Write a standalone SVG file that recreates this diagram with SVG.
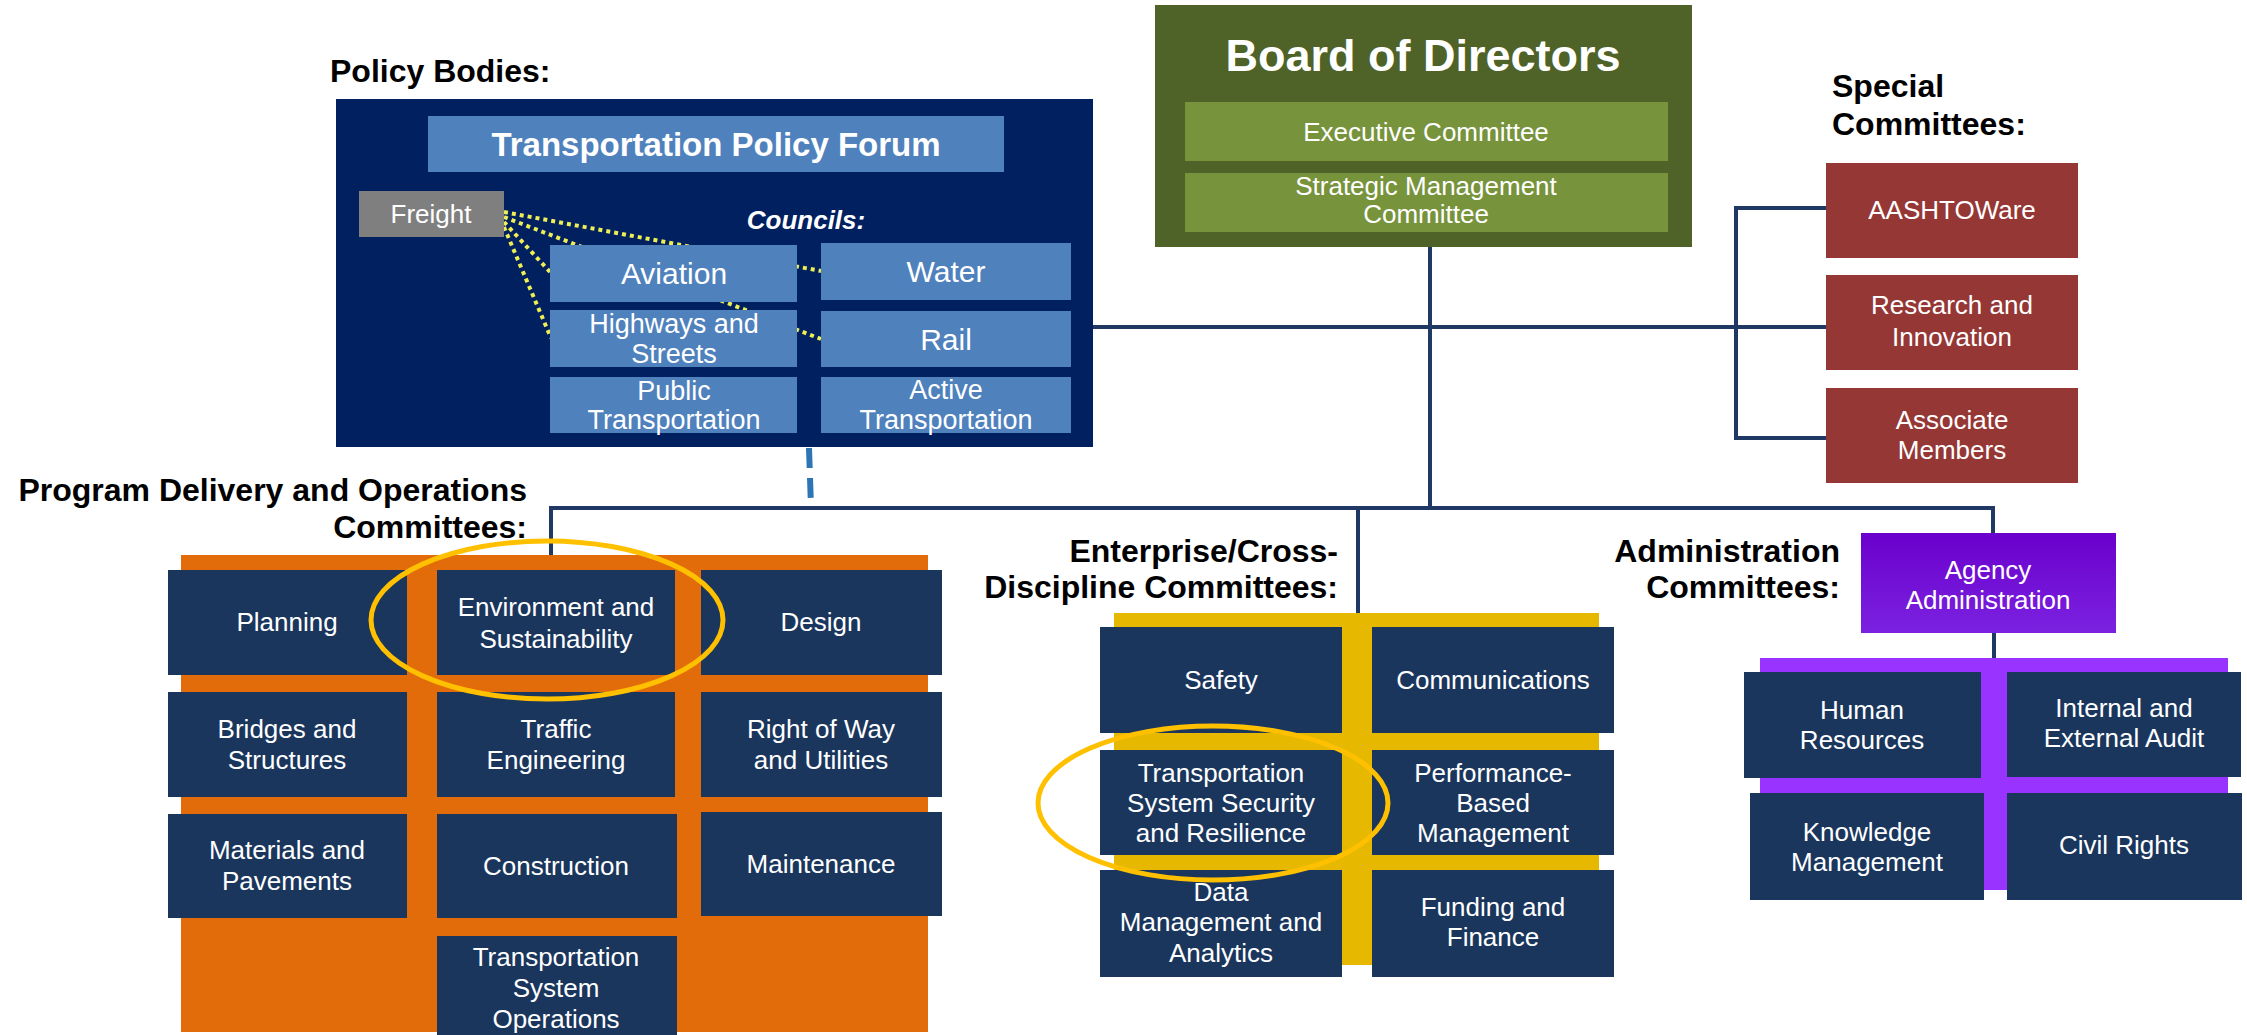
<svg xmlns="http://www.w3.org/2000/svg" width="2247" height="1035" viewBox="0 0 2247 1035">
<defs>
<style>
text{font-family:"Liberation Sans",Arial,sans-serif;}
.sec{font-weight:bold;font-size:32px;fill:#000;}
.bx{font-size:26px;fill:#fff;text-anchor:middle;}
.cn{font-size:30px;fill:#fff;text-anchor:middle;}
.cn2{font-size:27px;fill:#fff;text-anchor:middle;}
.navy{fill:#1a365d;}
.blue{fill:#4f81bd;}
.red{fill:#953735;}
.conn{stroke:#1f3864;stroke-width:4;fill:none;}
.dot{stroke:#eeee55;stroke-width:4;stroke-dasharray:4 4;fill:none;}
.ring{stroke:#ffc000;stroke-width:5;fill:none;}
</style>
<linearGradient id="agencyGrad" x1="0" y1="0" x2="0" y2="1">
<stop offset="0" stop-color="#6a00cc"/>
<stop offset="1" stop-color="#7b22e0"/>
</linearGradient>
</defs>
<rect width="2247" height="1035" fill="#fff"/>

<!-- section labels -->
<g id="labels">
<text class="sec" x="330" y="82" font-size="30">Policy Bodies:</text>
<text class="sec" x="1832" y="97">Special</text>
<text class="sec" x="1832" y="135">Committees:</text>
<text class="sec" x="527" y="501" text-anchor="end">Program Delivery and Operations</text>
<text class="sec" x="527" y="538" text-anchor="end">Committees:</text>
<text class="sec" x="1338" y="562" text-anchor="end">Enterprise/Cross-</text>
<text class="sec" x="1338" y="598" text-anchor="end">Discipline Committees:</text>
<text class="sec" x="1840" y="562" text-anchor="end">Administration</text>
<text class="sec" x="1840" y="598" text-anchor="end">Committees:</text>
</g>

<!-- connectors -->
<g id="connectors">
<path class="conn" d="M1430 247 V508"/>
<path class="conn" d="M1093 327 H1826"/>
<path class="conn" d="M1826 208 H1736 V438 H1826"/>
<path class="conn" d="M551 555 V508 H1993 V533"/>
<path class="conn" d="M1358 508 V613"/>
<path class="conn" d="M1994 633 V658"/>
<path d="M809 448 L811 507" stroke="#2e75b6" stroke-width="6" stroke-dasharray="20 10" fill="none"/>
</g>

<!-- Policy bodies -->
<g id="policy-bodies">
<rect x="336" y="99" width="757" height="348" fill="#002060"/>
<g id="tpf">
<rect class="blue" x="428" y="116" width="576" height="56"/>
<text x="716" y="156" font-size="33" font-weight="bold" fill="#fff" text-anchor="middle">Transportation Policy Forum</text>
</g>
<g id="freight-links">
<path class="dot" d="M504 212 L821 271"/>
<path class="dot" d="M504 217 L821 339"/>
<path class="dot" d="M504 222 L551 273"/>
<path class="dot" d="M504 227 L551 338"/>
</g>
<g id="freight">
<rect x="359" y="191" width="145" height="46" fill="#7f7f7f"/>
<text class="bx" x="431" y="223" font-size="27">Freight</text>
</g>
<text x="806" y="229" font-size="26" font-weight="bold" font-style="italic" fill="#fff" text-anchor="middle">Councils:</text>
<g id="aviation"><rect class="blue" x="550" y="245" width="247" height="57"/><text class="cn" x="674" y="284">Aviation</text></g>
<g id="water"><rect class="blue" x="821" y="243" width="250" height="57"/><text class="cn" x="946" y="282">Water</text></g>
<g id="highways"><rect class="blue" x="550" y="310" width="247" height="57"/><text class="cn2" x="674" y="333">Highways and</text><text class="cn2" x="674" y="363">Streets</text></g>
<g id="rail"><rect class="blue" x="821" y="311" width="250" height="56"/><text class="cn" x="946" y="350">Rail</text></g>
<g id="public"><rect class="blue" x="550" y="377" width="247" height="56"/><text class="cn2" x="674" y="400">Public</text><text class="cn2" x="674" y="429">Transportation</text></g>
<g id="active"><rect class="blue" x="821" y="377" width="250" height="56"/><text class="cn2" x="946" y="399">Active</text><text class="cn2" x="946" y="429">Transportation</text></g>
</g>

<!-- Board -->
<g id="board">
<rect x="1155" y="5" width="537" height="242" fill="#4f6228"/>
<text x="1423" y="71" font-size="45" font-weight="bold" fill="#fff" text-anchor="middle">Board of Directors</text>
<g id="executive"><rect x="1185" y="102" width="483" height="59" fill="#77933c"/><text class="bx" x="1426" y="141" font-size="28">Executive Committee</text></g>
<g id="strategic"><rect x="1185" y="173" width="483" height="59" fill="#77933c"/><text class="bx" x="1426" y="195" font-size="28">Strategic Management</text><text class="bx" x="1426" y="223" font-size="28">Committee</text></g>
</g>

<!-- Special committees -->
<g id="aashtoware"><rect class="red" x="1826" y="163" width="252" height="95"/><text class="bx" x="1952" y="219">AASHTOWare</text></g>
<g id="research"><rect class="red" x="1826" y="275" width="252" height="95"/><text class="bx" x="1952" y="314">Research and</text><text class="bx" x="1952" y="346">Innovation</text></g>
<g id="associate"><rect class="red" x="1826" y="388" width="252" height="95"/><text class="bx" x="1952" y="429">Associate</text><text class="bx" x="1952" y="459">Members</text></g>

<!-- Program Delivery and Operations -->
<g id="program-delivery">
<rect x="181" y="555" width="747" height="477" fill="#e36c0a"/>
<g id="planning"><rect class="navy" x="168" y="570" width="239" height="105"/><text class="bx" x="287" y="631">Planning</text></g>
<g id="environment"><rect class="navy" x="437" y="570" width="238" height="105"/><text class="bx" x="556" y="616">Environment and</text><text class="bx" x="556" y="648">Sustainability</text></g>
<g id="design"><rect class="navy" x="701" y="570" width="241" height="105"/><text class="bx" x="821" y="631">Design</text></g>
<g id="bridges"><rect class="navy" x="168" y="692" width="239" height="105"/><text class="bx" x="287" y="738">Bridges and</text><text class="bx" x="287" y="769">Structures</text></g>
<g id="traffic"><rect class="navy" x="437" y="692" width="238" height="105"/><text class="bx" x="556" y="738">Traffic</text><text class="bx" x="556" y="769">Engineering</text></g>
<g id="row"><rect class="navy" x="701" y="692" width="241" height="105"/><text class="bx" x="821" y="738">Right of Way</text><text class="bx" x="821" y="769">and Utilities</text></g>
<g id="materials"><rect class="navy" x="168" y="814" width="239" height="104"/><text class="bx" x="287" y="859">Materials and</text><text class="bx" x="287" y="890">Pavements</text></g>
<g id="construction"><rect class="navy" x="437" y="814" width="240" height="104"/><text class="bx" x="556" y="875">Construction</text></g>
<g id="maintenance"><rect class="navy" x="701" y="812" width="241" height="104"/><text class="bx" x="821" y="873">Maintenance</text></g>
<g id="tso"><rect class="navy" x="437" y="936" width="240" height="99"/><text class="bx" x="556" y="966">Transportation</text><text class="bx" x="556" y="997">System</text><text class="bx" x="556" y="1028">Operations</text></g>
<ellipse class="ring" cx="547" cy="620" rx="176" ry="79"/>
</g>

<!-- Enterprise / Cross-Discipline -->
<g id="enterprise">
<rect x="1114" y="613" width="485" height="352" fill="#e6b800"/>
<g id="safety"><rect class="navy" x="1100" y="627" width="242" height="106"/><text class="bx" x="1221" y="689">Safety</text></g>
<g id="communications"><rect class="navy" x="1372" y="627" width="242" height="106"/><text class="bx" x="1493" y="689">Communications</text></g>
<g id="security"><rect class="navy" x="1100" y="750" width="242" height="105"/><text class="bx" x="1221" y="782">Transportation</text><text class="bx" x="1221" y="812">System Security</text><text class="bx" x="1221" y="842">and Resilience</text></g>
<g id="performance"><rect class="navy" x="1372" y="750" width="242" height="105"/><text class="bx" x="1493" y="782">Performance-</text><text class="bx" x="1493" y="812">Based</text><text class="bx" x="1493" y="842">Management</text></g>
<g id="data"><rect class="navy" x="1100" y="870" width="242" height="107"/><text class="bx" x="1221" y="901">Data</text><text class="bx" x="1221" y="931">Management and</text><text class="bx" x="1221" y="962">Analytics</text></g>
<g id="funding"><rect class="navy" x="1372" y="870" width="242" height="107"/><text class="bx" x="1493" y="916">Funding and</text><text class="bx" x="1493" y="946">Finance</text></g>
<ellipse class="ring" cx="1213" cy="803" rx="175" ry="77"/>
</g>

<!-- Administration -->
<g id="administration">
<g id="agency"><rect x="1861" y="533" width="255" height="100" fill="url(#agencyGrad)"/><text class="bx" x="1988" y="579">Agency</text><text class="bx" x="1988" y="609">Administration</text></g>
<rect x="1760" y="658" width="468" height="232" fill="#9933ff"/>
<g id="hr"><rect class="navy" x="1744" y="672" width="237" height="106"/><text class="bx" x="1862" y="719">Human</text><text class="bx" x="1862" y="749">Resources</text></g>
<g id="audit"><rect class="navy" x="2007" y="672" width="234" height="105"/><text class="bx" x="2124" y="717">Internal and</text><text class="bx" x="2124" y="747">External Audit</text></g>
<g id="knowledge"><rect class="navy" x="1750" y="793" width="234" height="107"/><text class="bx" x="1867" y="841">Knowledge</text><text class="bx" x="1867" y="871">Management</text></g>
<g id="civil-rights"><rect class="navy" x="2007" y="793" width="235" height="107"/><text class="bx" x="2124" y="854">Civil Rights</text></g>
</g>
</svg>
